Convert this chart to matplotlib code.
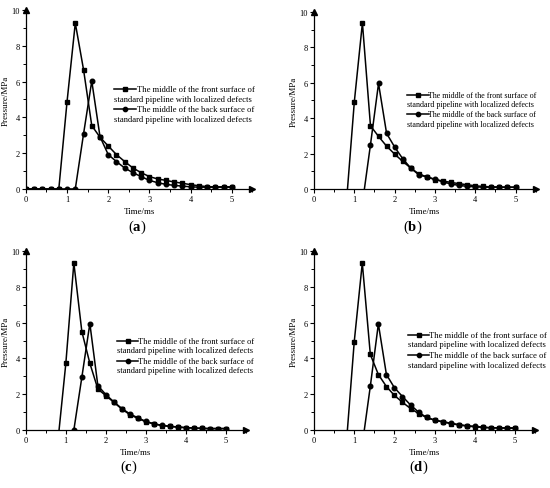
import numpy as np
import matplotlib.pyplot as plt
from matplotlib.lines import Line2D
from matplotlib.ticker import MultipleLocator

plt.rcParams['font.family'] = ['Liberation Serif', 'DejaVu Serif']
plt.rcParams['mathtext.fontset'] = 'custom'
plt.rcParams['mathtext.rm'] = 'Liberation Serif'
plt.rcParams['mathtext.bf'] = 'Liberation Serif:bold'

nan = np.nan

# time axis (ms)
t = [0.0, 0.2, 0.4, 0.6, 0.8, 1.0, 1.2, 1.4, 1.6, 1.8, 2.0, 2.2, 2.4,
     2.6, 2.8, 3.0, 3.2, 3.4, 3.6, 3.8, 4.0, 4.2, 4.4, 4.6, 4.8, 5.0]

# pressure (MPa), front / back surface, panels a-d
a_front = [0, 0, 0, 0, 0, 4.88, 9.27, 6.67, 3.54, 2.89, 2.40, 1.92, 1.53,
           1.17, 0.91, 0.69, 0.56, 0.48, 0.39, 0.32, 0.24, 0.18, 0.13, 0.12, 0.12, 0.12]
a_back = [0, 0, 0, 0, 0, 0, 0, 3.07, 6.03, 2.92, 1.92, 1.53, 1.17,
          0.91, 0.69, 0.48, 0.35, 0.26, 0.20, 0.16, 0.12, 0.10, 0.10, 0.10, 0.10, 0.10]

b_front = [nan, nan, nan, nan, -0.86, 4.94, 9.38, 3.57, 2.97, 2.42, 1.97, 1.56, 1.18,
           0.85, 0.68, 0.53, 0.45, 0.37, 0.30, 0.24, 0.18, 0.14, 0.12, 0.11, 0.10, 0.10]
b_back = [nan, nan, nan, nan, nan, nan, -0.82, 2.50, 5.96, 3.14, 2.37, 1.71, 1.18,
          0.80, 0.68, 0.55, 0.40, 0.28, 0.20, 0.15, 0.12, 0.10, 0.10, 0.10, 0.10, 0.10]

c_front = [nan, nan, nan, nan, -0.66, 3.73, 9.33, 5.50, 3.73, 2.29, 1.92, 1.55, 1.17,
           0.86, 0.65, 0.46, 0.34, 0.25, 0.20, 0.16, 0.13, 0.11, 0.09, 0.08, 0.08, 0.08]
c_back = [nan, nan, nan, nan, nan, nan, 0.0, 2.95, 5.95, 2.48, 1.98, 1.57, 1.20,
          0.90, 0.68, 0.48, 0.35, 0.26, 0.21, 0.17, 0.13, 0.11, 0.09, 0.08, 0.08, 0.08]

d_front = [nan, nan, nan, nan, -0.86, 4.94, 9.33, 4.22, 3.10, 2.43, 1.93, 1.55, 1.20,
           0.92, 0.70, 0.55, 0.45, 0.36, 0.28, 0.22, 0.18, 0.14, 0.12, 0.11, 0.10, 0.10]
d_back = [nan, nan, nan, nan, nan, nan, -0.82, 2.45, 5.93, 3.10, 2.36, 1.87, 1.40,
          1.00, 0.70, 0.55, 0.47, 0.38, 0.30, 0.24, 0.20, 0.16, 0.13, 0.12, 0.12, 0.12]

labels = [('The middle of the front surface of', 'standard pipeline with localized defects'),
          ('The middle of the back surface of', 'standard pipeline with localized defects')]

panels = [
    # rect, front, back, legend (handle x, text x, top y, font size), panel label pos, letter
    ([0.047, 0.6115, 0.412, 0.366], a_front, a_back, (0.388, 0.490, 0.559, 6.2), (0.249, 0.536), 'a'),
    ([0.571, 0.6115, 0.403, 0.362], b_front, b_back, (0.420, 0.512, 0.533, 5.8), (0.750, 0.536), 'b'),
    ([0.047, 0.1186, 0.400, 0.366], c_front, c_back, (0.415, 0.512, 0.499, 6.1), (0.235, 0.045), 'c'),
    ([0.571, 0.1186, 0.402, 0.366], d_front, d_back, (0.424, 0.518, 0.532, 6.2), (0.762, 0.044), 'd'),
]

fig = plt.figure(figsize=(5.5, 4.89), dpi=100)

for rect, front, back, leg, lab, letter in panels:
    ax = fig.add_axes(rect)
    ax.plot(t, front, color='black', lw=1.1, marker='s', ms=3.1)
    ax.plot(t, back, color='black', lw=1.1, marker='o', ms=3.3)
    ax.set_xlim(0, 5.5)
    ax.set_ylim(0, 10)
    ax.spines['top'].set_visible(False)
    ax.spines['right'].set_visible(False)
    for s in ['left', 'bottom']:
        ax.spines[s].set_linewidth(0.9)
    # axis arrows
    ax.plot(1, 0, '>', color='black', ms=4, transform=ax.transAxes, clip_on=False)
    ax.plot(0, 1, '^', color='black', ms=4, transform=ax.transAxes, clip_on=False)
    ax.set_xticks([0, 1, 2, 3, 4, 5])
    ax.xaxis.set_minor_locator(MultipleLocator(0.5))
    ax.yaxis.set_major_locator(MultipleLocator(2))
    ax.yaxis.set_minor_locator(MultipleLocator(1))
    ax.tick_params(which='major', length=3, width=0.8, labelsize=6, pad=1.5)
    ax.tick_params(which='minor', length=2, width=0.7)
    ax.set_xlabel('Time/ms', fontsize=6.5, labelpad=3)
    ax.set_ylabel('Pressure/MPa', fontsize=6.5, labelpad=1)

    # legend drawn Origin-style: handle on the first line, second line wraps under it
    hx, tx, ty, fs = leg
    for i, (l1, l2) in enumerate(labels):
        y0 = ty - i * 0.112
        mk = 's' if i == 0 else 'o'
        ax.add_line(Line2D([hx, hx + 0.097], [y0, y0], color='black', lw=1.1,
                           transform=ax.transAxes, clip_on=False))
        ax.add_line(Line2D([hx + 0.0485], [y0], color='black', marker=mk, ms=3.1,
                           transform=ax.transAxes, clip_on=False))
        ax.text(tx, y0, l1, fontsize=fs, va='center', ha='left', transform=ax.transAxes)
        ax.text(hx, y0 - 0.054, l2, fontsize=fs, va='center', ha='left', transform=ax.transAxes)

    fig.text(lab[0], lab[1], r'($\mathbf{%s}$)' % letter, fontsize=10.5, ha='center', va='center')

plt.savefig('out.png', dpi=100)
